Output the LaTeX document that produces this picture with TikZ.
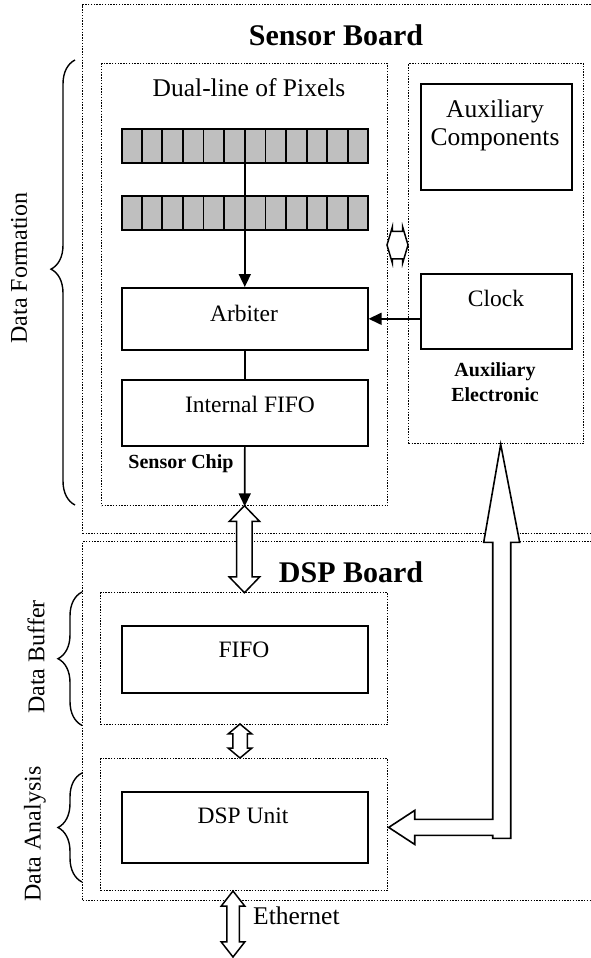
\documentclass[tikz,border=0pt]{standalone}
\usepackage{fontspec}
\setmainfont{Liberation Serif}
\usepackage{tikz}
\usetikzlibrary{arrows.meta}
\usetikzlibrary{calc}
\usetikzlibrary{shapes.arrows}
\usetikzlibrary{decorations.pathreplacing}

\begin{document}
\begin{tikzpicture}
	[x=1pt,y=-1pt,
	every node/.style={font=\fontsize{23.5}{27}\selectfont,inner sep=0pt},
	big/.style={font=\fontsize{25.5}{28}\selectfont},
	board/.style={draw,dash pattern=on 1.4pt off 1.4pt,line width=1.4pt,anchor=north west},
	block/.style={draw,line width=1.6pt,anchor=north west},
	pixrow/.style={block,fill=black!25,minimum width=246pt,minimum height=34pt},
	tag/.style={font=\bfseries\fontsize{20}{25}\selectfont,align=center},
	title/.style={font=\bfseries\fontsize{30}{34}\selectfont},
	side/.style={rotate=90,font=\fontsize{24}{28}\selectfont},
	link/.style={double arrow,draw,fill=white,line width=1.5pt,inner xsep=0pt,double arrow head indent=0pt},
	blockarrow/.style={draw,fill=white,line width=1.6pt,line join=miter},
	brace/.style={decorate,decoration={brace,amplitude=24pt},line width=1.4pt},
	tri/.style={-{Triangle[length=13pt,width=12pt]}}]
	\clip (0,0) rectangle (591,958);

	% the two boards
	\node[board,minimum width=520pt,minimum height=529pt] (sensorb) at (82,4) {};
	\node[board,minimum width=520pt,minimum height=359pt] (dspb) at (82,541) {};
	\node[title] (sbtitle) at (336,35) {Sensor Board};
	\node[title] (dbtitle) at (351,572) {DSP Board};

	% sensor chip
	\node[board,minimum width=286pt,minimum height=442pt] (chip) at (101,63) {};
	\node[big] (pixtitle) at (249,88) {Dual-line of Pixels};
	\node[pixrow] (row1) at (121,128) {};
	\node[pixrow] (row2) at (121,195) {};
	\foreach \r in {row1,row2}
		\foreach \i in {1,...,11}
			\draw[line width=1.8pt] ($(\r.north west)!\i/12!(\r.north east)$) -- ($(\r.south west)!\i/12!(\r.south east)$);
	\node[block,minimum width=246pt,minimum height=62pt] (arbiter) at (121,287) {};
	\node (arbtext) at (244,313) {Arbiter};
	\node[block,minimum width=246pt,minimum height=66pt] (ififo) at (121,379) {};
	\node (ififotext) at (250,404) {Internal FIFO};
	\node[tag] (chiptag) at (181,464) {Sensor Chip};

	% auxiliary electronic
	\node[board,minimum width=175pt,minimum height=380pt] (auxel) at (408,63) {};
	\node[block,minimum width=151pt,minimum height=106pt] (auxcomp) at (420,83) {};
	\node[big,align=center] (auxtext) at (495,125) {Auxiliary\\Components};
	\node[block,minimum width=151pt,minimum height=75pt] (clock) at (420,273) {};
	\node (clocktext) at (496,298) {Clock};
	\node[tag] (auxtag) at (495,382) {Auxiliary\\Electronic};

	% dsp board
	\node[board,minimum width=287pt,minimum height=132pt] (buffer) at (100,592) {};
	\node[block,minimum width=246pt,minimum height=67pt] (fifo) at (121,625) {};
	\node (fifotext) at (244,650) {FIFO};
	\node[board,minimum width=287pt,minimum height=132pt] (analysis) at (100,758) {};
	\node[block,minimum width=246pt,minimum height=71pt] (dspunit) at (121,791) {};
	\node (dsptext) at (243,816) {DSP Unit};

	% signal paths
	\draw[line width=1.6pt] (row1.south) -- (row2.north);
	\draw[line width=1.6pt,tri] (row2.south) -- (arbiter.north);
	\draw[line width=1.6pt] (arbiter.south) -- (ififo.north);
	\draw[line width=1.6pt,tri] (ififo.south) -- (chip.south);
	\draw[line width=1.6pt,tri] (clock.west |- arbiter.east) -- (arbiter.east);

	% bus links
	\node[link,rotate=90,minimum height=87pt,inner ysep=7pt,double arrow head extend=7.5pt,double arrow tip angle=88] (chiplink) at ($(chip.south)!0.5!(buffer.north)$) {};
	\node[link,rotate=90,minimum height=34pt,inner ysep=6.5pt,double arrow head extend=4.5pt,double arrow tip angle=100] (buflink) at (240,741) {};
	\node[link,rotate=90,minimum height=66pt,inner ysep=5.5pt,double arrow head extend=5.5pt,double arrow tip angle=76] (ether) at (233,924) {};
	\node[big,anchor=west] (ethertext) at (253,916) {Ethernet};
	\node[link,minimum height=21pt,inner ysep=13pt,double arrow head extend=4pt,double arrow tip angle=147] (auxlink) at (397.5,245) {};

	% feed from the auxiliary electronic down to the dsp unit
	\draw[blockarrow] ([xshift=4.5pt]auxel.south) -- ++(19,98) -- ++(-9,0) -- ++(0,296) -- ++(-18,0)
		-- ++(0,-3) -- ++(-78,0) -- ++(0,9) -- ++(-26,-17) -- ++(26,-17) -- ++(0,9) -- ++(78,0)
		-- ++(0,-277) -- ++(-9,0) -- cycle;

	% stages
	\draw[brace,decoration={aspect=0.53}] (75,505) -- (75,60);
	\node[side] (formation) at (19,268) {Data Formation};
	\draw[brace] (buffer.south west -| dspb.west) -- (buffer.north west -| dspb.west);
	\node[side] (buftext) at (36,657) {Data Buffer};
	\draw[brace] (82,882) -- (82,773);
	\node[side] (analysistext) at (35,834) {Data Analysis};
\end{tikzpicture}
\end{document}
